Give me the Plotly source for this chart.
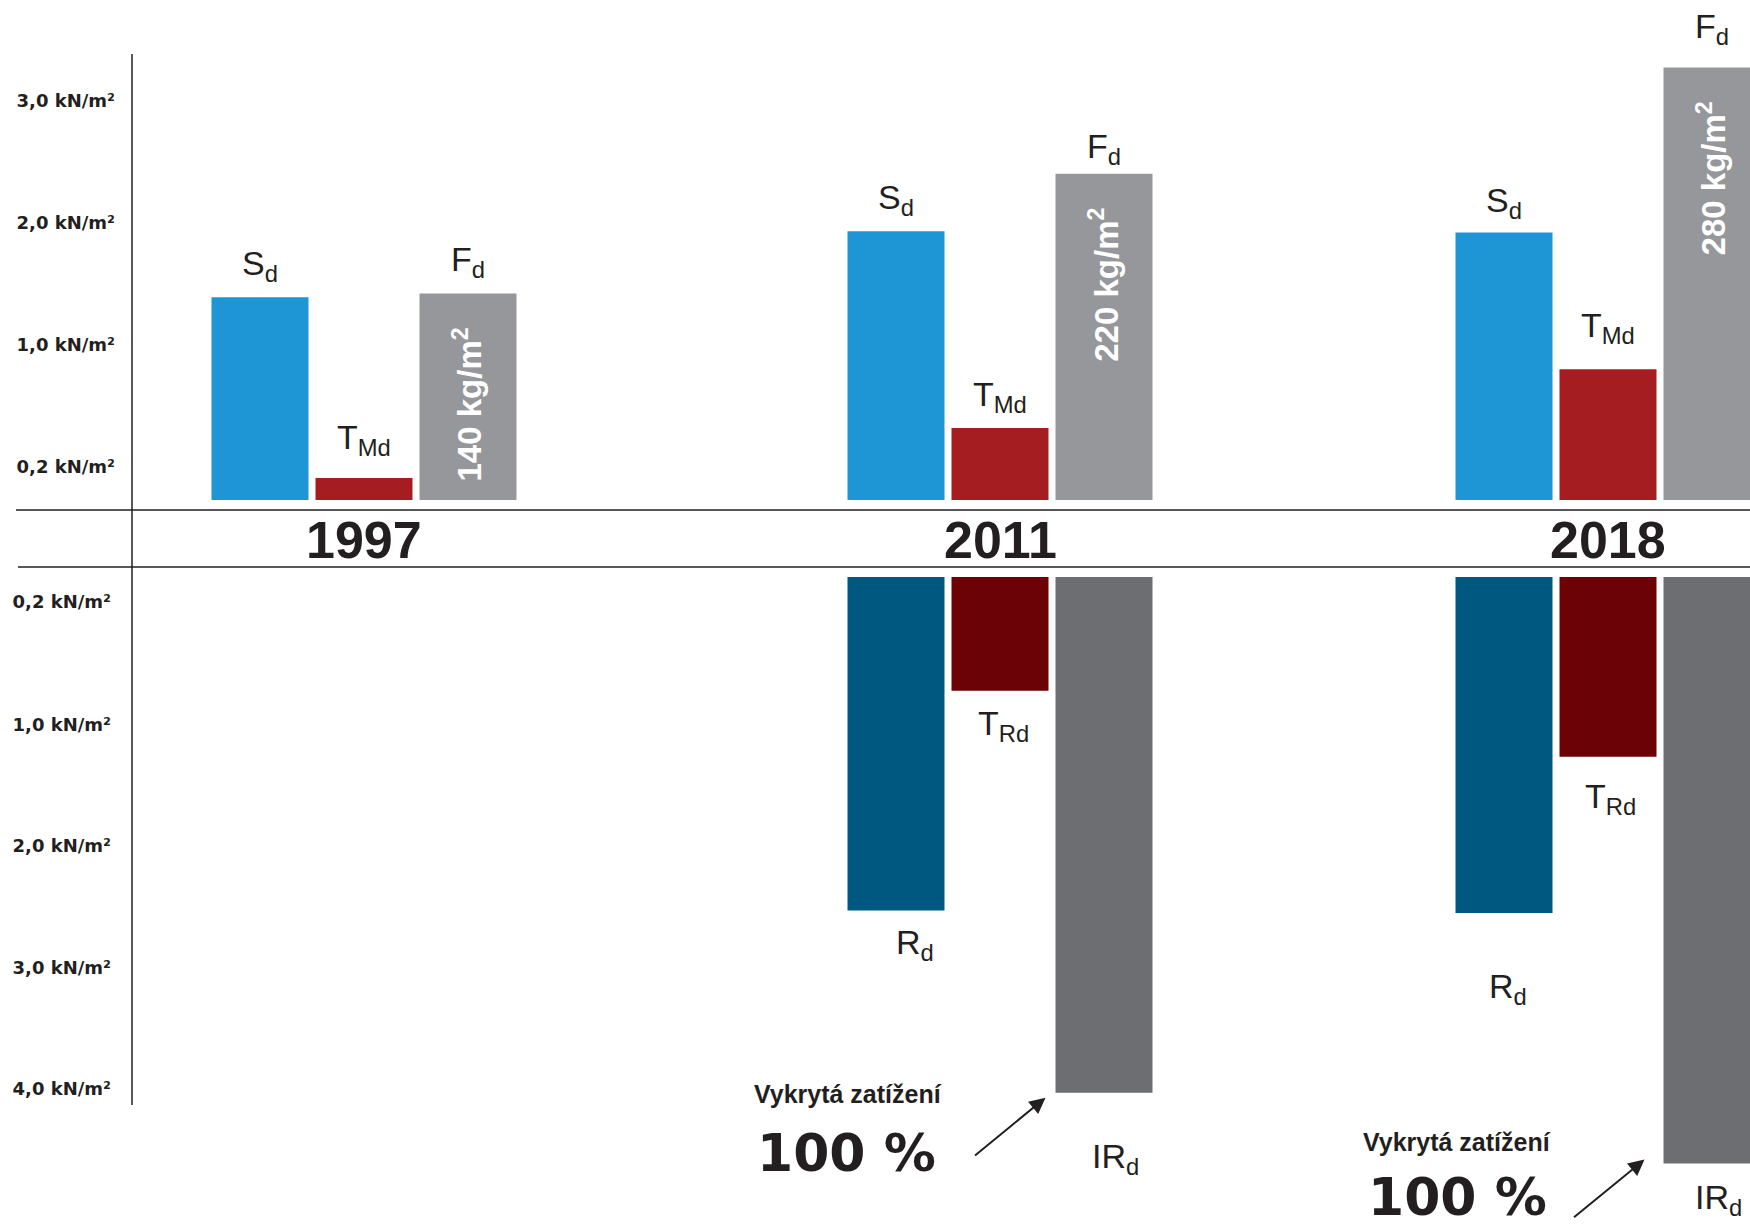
import plotly.graph_objects as go

# ---------------- data ----------------
YEARS = ["1997", "2011", "2018"]

# upper panel – loads (bar lengths in kN/m² axis units, measured from baseline)
SD = [1.66, 2.20, 2.19]
TMD = [0.18, 0.59, 1.07]
FD = [1.69, 2.67, 3.54]
FD_TEXT = ["140 kg/m<sup>2</sup>", "220 kg/m<sup>2</sup>", "280 kg/m<sup>2</sup>"]

# lower panel – resistances (no data for 1997)
RD = [None, 2.73, 2.75]
TRD = [None, 0.93, 1.47]
IRD = [None, 4.22, 4.80]

TOP_TICK_VALS = [0.27, 1.27, 2.27, 3.27]
TOP_TICK_TEXT = ["0,2 kN/m²", "1,0 kN/m²", "2,0 kN/m²", "3,0 kN/m²"]
BOT_TICK_VALS = [0.20, 1.21, 2.20, 3.20, 4.19]
BOT_TICK_TEXT = ["0,2 kN/m²", "1,0 kN/m²", "2,0 kN/m²", "3,0 kN/m²", "4,0 kN/m²"]

TOP_LABELS = ["S<sub>d</sub>", "T<sub>Md</sub>", "F<sub>d</sub>"]
BOT_LABELS = ["R<sub>d</sub>", "T<sub>Rd</sub>", "IR<sub>d</sub>"]
COVER_TITLE = "Vykrytá zatížení"
COVER_VALUE = ["", "100 %", "100 %"]

# ---------------- layout / style constants ----------------
W, H = 1750, 1226
UNIT = 122.2            # px per axis unit
TOP_BASE_PX = 500       # baseline of upper bars (px from top)
BOT_BASE_PX = 577       # baseline of lower bars
GROUP_X = [364, 1000, 1608]
BAR_W = 97
BAR_STEP = 104
OFFS = [-BAR_STEP, 0, BAR_STEP]

TOP_COLORS = ["#1E96D6", "#A51D21", "#96979B"]
BOT_COLORS = ["#005880", "#6B0205", "#6D6E72"]
INK = "#231F20"
LABEL_FONT = dict(family="Liberation Sans, Arial, sans-serif", size=34, color=INK)
TICK_FONT = dict(family="DejaVu Sans, sans-serif", size=18, color=INK, weight="bold")

# per-label placement tweaks (px), as laid out in the original
TOP_GAP = [[0, 7, 0], [0, 0, -6], [-2, 10, 7]]
BOT_GAP = [[0, 0, 0], [18, 19, 50], [60, 26, 20]]
BOT_XSHIFT = [[0, 0, 0], [19, 3, 11], [4, 2, 6]]

def px_x(p):
    return p / W

def px_y(p):
    return 1 - p / H

fig = go.Figure()

top_series = [SD, TMD, FD]
bot_series = [RD, TRD, IRD]

for i, vals in enumerate(top_series):
    fig.add_trace(go.Bar(
        x=GROUP_X, y=vals, base=0, width=BAR_W, offset=OFFS[i] - BAR_W / 2,
        marker=dict(color=TOP_COLORS[i], line=dict(width=0)),
        xaxis="x", yaxis="y", showlegend=False, hoverinfo="skip"))

for i, vals in enumerate(bot_series):
    fig.add_trace(go.Bar(
        x=GROUP_X, y=vals, base=0, width=BAR_W, offset=OFFS[i] - BAR_W / 2,
        marker=dict(color=BOT_COLORS[i], line=dict(width=0)),
        xaxis="x2", yaxis="y2", showlegend=False, hoverinfo="skip"))

ann = []
# labels above upper bars
for i, vals in enumerate(top_series):
    for g, v in enumerate(vals):
        ann.append(dict(x=GROUP_X[g] + OFFS[i], y=v, xref="x", yref="y",
                        text=TOP_LABELS[i], showarrow=False, font=LABEL_FONT,
                        xanchor="center", yanchor="bottom", yshift=8 + TOP_GAP[g][i]))
# labels below lower bars
for i, vals in enumerate(bot_series):
    for g, v in enumerate(vals):
        if v is None:
            continue
        ann.append(dict(x=GROUP_X[g] + OFFS[i], y=v, xref="x2", yref="y2",
                        text=BOT_LABELS[i], showarrow=False, font=LABEL_FONT,
                        xanchor="center", yanchor="top",
                        xshift=BOT_XSHIFT[g][i], yshift=-(BOT_GAP[g][i] - 8)))
# rotated weights inside Fd bars
for g, v in enumerate(FD):
    ann.append(dict(x=GROUP_X[g] + OFFS[2], y=v, xref="x", yref="y",
                    text=FD_TEXT[g], textangle=-90, showarrow=False,
                    font=dict(family="Liberation Sans, Arial, sans-serif", size=33,
                              color="white", weight="bold"),
                    xanchor="center", yanchor="top", yshift=-32))
# year labels
for g, yr in enumerate(YEARS):
    ann.append(dict(x=GROUP_X[g], y=px_y(540), xref="x", yref="paper", text=yr,
                    showarrow=False, xanchor="center", yanchor="middle",
                    font=dict(family="Liberation Sans, Arial, sans-serif", size=52,
                              color=INK, weight="bold")))
# coverage notes with arrows
COVER_TITLE_POS = [None, (848, 1094), (1457, 1142)]
COVER_VALUE_POS = [None, (846, 1153), (1457, 1197)]
ARROW_SHIFT = [None, (-10, -5), (-19, 4)]
for g, v in enumerate(IRD):
    if v is None:
        continue
    tx, ty = COVER_TITLE_POS[g]
    ann.append(dict(x=px_x(tx), y=px_y(ty), xref="paper", yref="paper",
                    text=COVER_TITLE, showarrow=False, xanchor="center", yanchor="middle",
                    font=dict(family="Liberation Sans, Arial, sans-serif", size=25,
                              color=INK, weight="bold")))
    vx, vy = COVER_VALUE_POS[g]
    ann.append(dict(x=px_x(vx), y=px_y(vy), xref="paper", yref="paper",
                    text=COVER_VALUE[g], showarrow=False, xanchor="center", yanchor="middle",
                    font=dict(family="DejaVu Sans, sans-serif", size=52,
                              color=INK, weight="bold")))
    sx, sy = ARROW_SHIFT[g]
    ann.append(dict(x=GROUP_X[g] + OFFS[2] - BAR_W / 2, y=v, xref="x2", yref="y2",
                    text="", showarrow=True, arrowhead=2, arrowsize=1.6, arrowwidth=2,
                    arrowcolor=INK, ax=-72, ay=59, standoff=0,
                    xshift=sx, yshift=sy))

shapes = [
    dict(type="line", xref="paper", yref="paper", x0=px_x(16), x1=1,
         y0=px_y(510), y1=px_y(510), line=dict(color=INK, width=1.5)),
    dict(type="line", xref="paper", yref="paper", x0=px_x(18), x1=1,
         y0=px_y(567), y1=px_y(567), line=dict(color=INK, width=1.5)),
    dict(type="line", xref="paper", yref="paper", x0=px_x(132), x1=px_x(132),
         y0=px_y(54), y1=px_y(1105), line=dict(color=INK, width=1.5)),
]

hidden_x = dict(range=[0, W], domain=[0, 1], visible=False, fixedrange=True)

fig.update_layout(
    width=W, height=H,
    margin=dict(l=0, r=0, t=0, b=0),
    paper_bgcolor="white", plot_bgcolor="rgba(0,0,0,0)",
    barmode="overlay",
    xaxis=dict(hidden_x, anchor="y"),
    xaxis2=dict(hidden_x, anchor="y2"),
    yaxis=dict(domain=[px_y(510), 1],
               range=[-(510 - TOP_BASE_PX) / UNIT, TOP_BASE_PX / UNIT],
               anchor="free", position=px_x(132),
               tickvals=TOP_TICK_VALS, ticktext=TOP_TICK_TEXT, tickfont=TICK_FONT,
               ticks="", showgrid=False, zeroline=False, showline=False,
               ticklabelstandoff=17, fixedrange=True),
    yaxis2=dict(domain=[0, px_y(567)],
                range=[(H - BOT_BASE_PX) / UNIT, -(BOT_BASE_PX - 567) / UNIT],
                anchor="free", position=px_x(132),
                tickvals=BOT_TICK_VALS, ticktext=BOT_TICK_TEXT, tickfont=TICK_FONT,
                ticks="", showgrid=False, zeroline=False, showline=False,
                ticklabelstandoff=21, fixedrange=True),
    annotations=ann,
    shapes=shapes,
)

fig.write_html("out.html", config={"displayModeBar": False})
